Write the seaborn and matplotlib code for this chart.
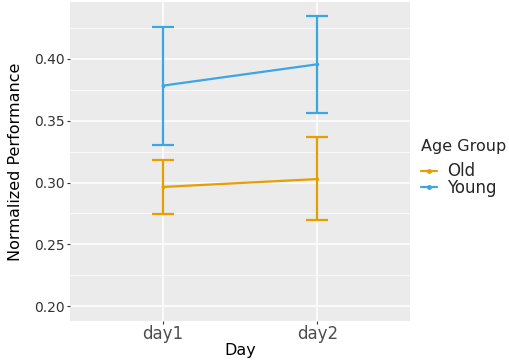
import pandas as pd
import numpy as np
import matplotlib.pyplot as plt
import seaborn as sns

# data
days = ["day1", "day2"]
groups = ["Old", "Young"]
old_mean = [0.2964, 0.3028]
old_low = [0.2742, 0.2696]
old_high = [0.3180, 0.3366]
young_mean = [0.3784, 0.3957]
young_low = [0.3306, 0.3565]
young_high = [0.4262, 0.4348]
colors = {"Old": "#E69F00", "Young": "#3BA5E6"}

df = pd.DataFrame({
    "Day": days * 2,
    "Age Group": ["Old"] * 2 + ["Young"] * 2,
    "mean": old_mean + young_mean,
    "low": old_low + young_low,
    "high": old_high + young_high,
})

sns.set_theme(style="darkgrid")
plt.rcParams['font.family'] = ['DejaVu Sans']

fig = plt.figure(figsize=(5.1, 3.6), dpi=100)
ax = fig.add_axes([0.137, 0.108, 0.667, 0.886])
ax.set_facecolor("#EBEBEB")

df["x"] = df["Day"].map({d: i for i, d in enumerate(days)})

sns.lineplot(data=df, x="x", y="mean", hue="Age Group", hue_order=groups,
             palette=colors, linewidth=1.6, marker="o", markersize=2.5,
             markeredgewidth=0, ax=ax, legend=False)

for g in groups:
    sub = df[df["Age Group"] == g]
    ax.errorbar(sub["x"], sub["mean"],
                yerr=[sub["mean"] - sub["low"], sub["high"] - sub["mean"]],
                fmt="none", ecolor=colors[g], elinewidth=1.6, capsize=8,
                capthick=1.6)

ax.set_xlim(-0.6, 1.6)
ax.set_ylim(0.1878, 0.446)
ax.set_xticks([0, 1])
ax.set_xticklabels(days)
ax.set_yticks([0.20, 0.25, 0.30, 0.35, 0.40])
ax.set_yticklabels(["0.20", "0.25", "0.30", "0.35", "0.40"])
ax.set_yticks([0.225, 0.275, 0.325, 0.375, 0.425], minor=True)
ax.grid(which="major", color="white", linewidth=1.1)
ax.grid(which="minor", axis="y", color="white", linewidth=0.5)
ax.tick_params(axis="y", which="major", labelsize=10, labelcolor="#333333",
               length=2, width=0.8, left=True, color="#333333", pad=1.5)
ax.tick_params(axis="x", which="major", labelsize=12, labelcolor="#4D4D4D",
               length=2, width=0.8, bottom=True, color="#333333", pad=0.5)
ax.tick_params(which="minor", length=0)
for s in ax.spines.values():
    s.set_visible(False)

ax.set_xlabel("Day", fontsize=11.5, color="black", labelpad=0)
ax.set_ylabel("Normalized Performance", fontsize=11.5, color="black", labelpad=8)

# legend
handles = [plt.Line2D([], [], color=colors[g], linewidth=1.6, marker="o",
                      markersize=2.5) for g in groups]
leg = fig.legend(handles, groups, title="Age Group", loc="upper left",
                 bbox_to_anchor=(0.812, 0.632), frameon=False, fontsize=12,
                 title_fontsize=11.5, handlelength=1.0, handletextpad=0.6,
                 labelspacing=-0.1, borderaxespad=0)
leg._legend_box.align = "left"
leg._legend_box.sep = 6

fig.savefig("out.png", dpi=100)
